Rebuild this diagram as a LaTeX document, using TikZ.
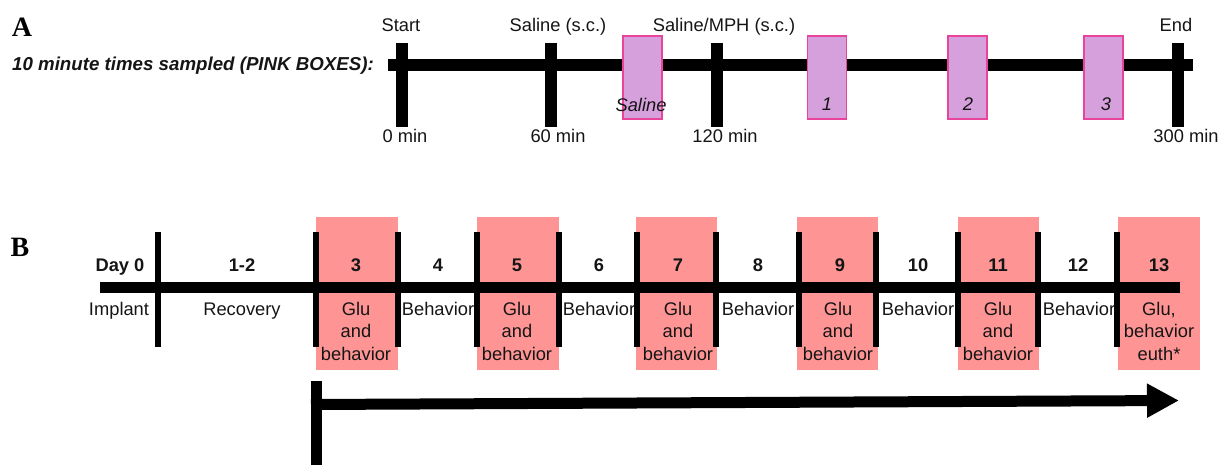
\documentclass[tikz,border=0pt]{standalone}
\usepackage{fontspec}
\setmainfont{Liberation Sans}
\newfontfamily\panelfont{Liberation Serif}
\usetikzlibrary{arrows.meta}

\definecolor{lilac}{HTML}{D6A0DC}
\definecolor{lilacedge}{HTML}{E8449B}
\definecolor{salmon}{HTML}{FF9494}
\definecolor{ink}{HTML}{151515}

\begin{document}
\begin{tikzpicture}[x=1pt,y=-1pt,
  txt/.style={inner sep=0pt, text=ink, font=\fontsize{18.3}{22.5}\selectfont},
  daylbl/.style={txt, anchor=base, font=\fontsize{18.3}{22.5}\selectfont\bfseries},
  multi/.style={txt, anchor=north, align=center},
  panel/.style={inner sep=0pt, anchor=base, text=black, font=\panelfont\fontsize{28}{28}\selectfont\bfseries},
  bar/.style={draw=black, line width=12pt},
  thinbar/.style={draw=black, line width=6pt},
  sample/.style={draw=lilacedge, line width=1.3pt, fill=lilac, minimum width=39pt, minimum height=83pt, inner sep=0pt},
  daybox/.style={fill=salmon, draw=none, minimum height=153pt, inner sep=0pt}
]
\useasboundingbox (0,0) rectangle (1221,465);

% ---------------- Panel A: sampling timeline ----------------
\node[panel] (pA) at (22,37) {A};
\node[txt, anchor=base west, font=\fontsize{18.7}{22.5}\selectfont\bfseries\itshape] (title) at (12,71)
  {10 minute times sampled (PINK BOXES):};

\coordinate (aL) at (388,65);
\coordinate (aR) at (1193,65);
\draw[bar] (aL) -- (aR);

\foreach \x/\n in {402/s0, 551/s60, 717/s120, 1178/s300}{
  \coordinate (\n-top) at (\x,43);
  \coordinate (\n-bot) at (\x,127);
  \draw[bar] (\n-top) -- (\n-bot);
}

% sampled 10-minute windows
\foreach \x/\n in {642.5/bS, 827/b1, 967.5/b2, 1103.5/b3}{
  \node[sample] (\n) at (\x,77.5) {};
}
\node[txt, anchor=base, font=\fontsize{18.3}{22.5}\selectfont\itshape] (lS) at (641,112) {Saline};
\node[txt, anchor=base, font=\fontsize{18.3}{22.5}\selectfont\itshape] (l1) at (827,111) {1};
\node[txt, anchor=base, font=\fontsize{18.3}{22.5}\selectfont\itshape] (l2) at (968,111) {2};
\node[txt, anchor=base, font=\fontsize{18.3}{22.5}\selectfont\itshape] (l3) at (1106,111) {3};

% event labels above, time labels below
\node[txt, anchor=base] (evStart) at (401,32) {Start};
\node[txt, anchor=base] (evSal) at (558,32) {Saline (s.c.)};
\node[txt, anchor=base] (evMPH) at (724,32) {Saline/MPH (s.c.)};
\node[txt, anchor=base] (evEnd) at (1176,32) {End};

\node[txt, anchor=base] (m0) at (405,143) {0 min};
\node[txt, anchor=base] (m60) at (558,143) {60 min};
\node[txt, anchor=base] (m120) at (725,143) {120 min};
\node[txt, anchor=base] (m300) at (1186,143) {300 min};

% ---------------- Panel B: daily schedule ----------------
\node[panel] (pB) at (20,257) {B};

% glutamate recording days
\foreach \l/\r/\n in {316/398/d3, 477/559/d5, 636/717/d7, 797/878/d9, 958/1039/d11, 1118/1200/d13}{
  \node[daybox, minimum width={\r-\l}] (\n) at ({(\l+\r)/2},293.5) {};
}

\coordinate (bL) at (100,287);
\coordinate (bR) at (1180,287);
\draw[line width=11pt] (bL) -- (bR);

\foreach \x [count=\i] in {158,316,398,477,559,637,716,799,876,958,1038,1117}{
  \coordinate (k\i-top) at (\x,232);
  \coordinate (k\i-bot) at (\x,347);
  \draw[thinbar] (k\i-top) -- (k\i-bot);
}

\foreach \x/\t [count=\i] in {120/Day 0, 242/1-2, 356/3, 438/4, 517/5, 599/6, 678/7, 758/8, 840/9, 918/10, 998/11, 1078/12, 1159/13}{
  \node[daylbl] (day\i) at (\x,272) {\t};
}

\node[txt, anchor=base] (impl) at (119,315) {Implant};
\node[txt, anchor=base] (recov) at (242,315) {Recovery};
\foreach \x [count=\i] in {356,517,678,838,998}{
  \node[multi] (glu\i) at (\x,302) {Glu\\and\\behavior};
}
\foreach \x [count=\i] in {438,599,758,918,1079}{
  \node[txt, anchor=base] (beh\i) at (\x,315) {Behavior};
}
\node[multi] (gluEnd) at (1159,302) {Glu,\\behavior\\euth*};

% testing period arrow
\coordinate (vTop) at (316,381);
\coordinate (vBot) at (316,465);
\coordinate (hStart) at (311,404.5);
\coordinate (hEnd) at (1179,400.5);
\draw[line width=11pt] (vTop) -- (vBot);
\draw[line width=11pt, -{Triangle[length=32pt,width=32pt]}] (hStart) -- (hEnd);
\end{tikzpicture}
\end{document}
